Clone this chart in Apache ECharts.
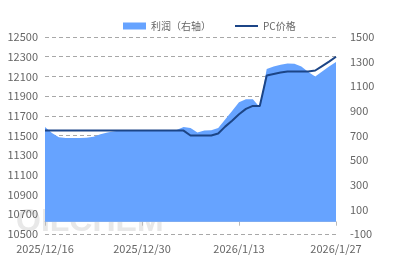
<!DOCTYPE html>
<html>
<head>
<meta charset="utf-8">
<script src="https://cdn.jsdelivr.net/npm/echarts@6/dist/echarts.min.js"></script>
<style>html,body{margin:0;padding:0;background:#fff}#c{width:397px;height:265px}</style>
</head>
<body>
<div id="c"></div>
<script>
// Calendar days 2025/12/16 .. 2026/1/27
const categories = (function(){
  const out = [];
  const d = new Date(2025, 11, 16);
  for (let i = 0; i < 43; i++) {
    out.push(d.getFullYear() + '/' + (d.getMonth() + 1) + '/' + d.getDate());
    d.setDate(d.getDate() + 1);
  }
  return out;
})();

// 利润（右轴）
const profit = [
  770, 720, 685, 680, 680, 680, 682, 690, 710, 725,
  735, 740, 745, 745, 745, 745, 745, 745, 745, 745,
  770, 760, 725, 740, 743, 760, 830, 900, 970, 995,
  995, 930, 1240, 1260, 1275, 1284, 1282, 1260, 1215, 1180,
  1220, 1260, 1297
];

// PC价格
const pcPrice = [
  11550, 11550, 11550, 11550, 11550, 11550, 11550, 11550, 11550, 11550,
  11550, 11550, 11550, 11550, 11550, 11550, 11550, 11550, 11550, 11550,
  11550, 11500, 11500, 11500, 11500, 11520, 11590, 11650, 11715, 11770,
  11800, 11800, 12110, 12125, 12140, 12150, 12150, 12150, 12150, 12160,
  12205, 12250, 12300
];

const leftTicks = { min: 10500, max: 12500, interval: 200 };
const rightTicks = { min: -100, max: 1500, interval: 200 };
const seriesNames = ['利润（右轴）', 'PC价格'];

const font = '"Noto Sans CJK SC", "Noto Sans", sans-serif';
const chart = echarts.init(document.getElementById('c'), null, { renderer: 'canvas' });
chart.setOption({
  animation: false,
  backgroundColor: '#ffffff',
  textStyle: { fontFamily: font },
  graphic: [{
    type: 'text', left: 16, top: 206, z: -1, silent: true,
    style: { text: 'OILCHEM', fontSize: 32, fontWeight: 'bold', fontFamily: 'Arial, "Liberation Sans", sans-serif', fill: '#e8e8e8' }
  }],
  legend: {
    top: 16, left: 118,
    itemWidth: 23, itemHeight: 7, itemGap: 24,
    symbolKeepAspect: true,
    textStyle: { color: '#666', fontSize: 10, fontFamily: font },
    data: [
      { name: seriesNames[0], icon: 'rect' },
      { name: seriesNames[1], icon: 'path://M0,0H23V2H0Z' }
    ]
  },
  grid: { left: 45, right: 61, top: 37, bottom: 31 },
  xAxis: {
    type: 'category',
    data: categories,
    boundaryGap: false,
    axisLine: { lineStyle: { color: '#c8c8c8' } },
    axisTick: { interval: 13, length: 4, lineStyle: { color: '#bbb' } },
    axisLabel: { interval: 13, color: '#666', fontSize: 11, margin: 9, fontFamily: font },
    splitLine: { show: false }
  },
  yAxis: [{
    type: 'value',
    min: leftTicks.min, max: leftTicks.max, interval: leftTicks.interval,
    axisLine: { show: false }, axisTick: { show: false },
    axisLabel: { color: '#666', fontSize: 11, margin: 7, fontFamily: font, formatter: v => String(v) },
    splitLine: { lineStyle: { color: '#a8a8a8', type: [4, 3], width: 1 } }
  }, {
    type: 'value',
    min: rightTicks.min, max: rightTicks.max, interval: rightTicks.interval,
    axisLine: { show: false }, axisTick: { show: false },
    axisLabel: { color: '#666', fontSize: 11, margin: 14, fontFamily: font, formatter: v => String(v) },
    splitLine: { show: false }
  }],
  series: [{
    name: seriesNames[0],
    type: 'line',
    yAxisIndex: 1,
    data: profit,
    symbol: 'none',
    color: '#66a3ff',
    lineStyle: { width: 0 },
    areaStyle: { color: '#66a3ff', opacity: 1 },
    z: 2
  }, {
    name: seriesNames[1],
    type: 'line',
    yAxisIndex: 0,
    data: pcPrice,
    symbol: 'none',
    color: '#1c4587',
    lineStyle: { width: 2, color: '#1c4587' },
    z: 3
  }]
});
</script>
</body>
</html>
